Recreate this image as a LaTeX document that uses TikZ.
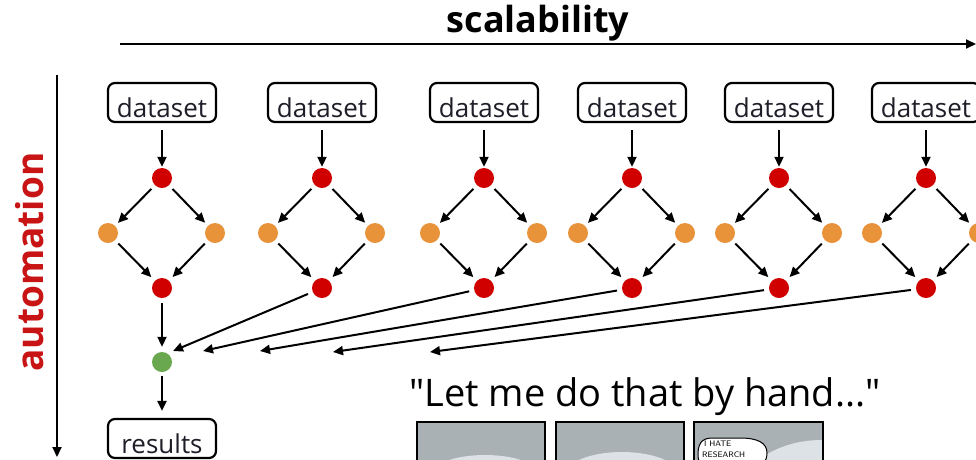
\documentclass[tikz,border=0pt]{standalone}
\usepackage{fontspec}
\setmainfont{Open Sans}
\newfontfamily\qfont{Open Sans}
\usetikzlibrary{arrows.meta}
\definecolor{nodered}{HTML}{D00000}
\definecolor{nodeorange}{HTML}{E8923A}
\definecolor{nodegreen}{HTML}{6AA84F}
\definecolor{axisred}{HTML}{C81414}
\definecolor{txt}{HTML}{1E1E28}
\definecolor{panelgray}{HTML}{AAB1B4}
\definecolor{panellight}{HTML}{DCE2E5}
\tikzset{
  ln/.style={line width=2pt, black},
  arr/.style={ln, -{Triangle[length=10pt,width=9pt]}},
  boxnode/.style={draw, line width=2.2pt, rounded corners=7pt, minimum width=108pt,
    inner xsep=0pt, inner ysep=3pt, text height=31pt, text depth=2pt,
    font=\fontsize{26}{26}\selectfont, text=txt},
  dot/.style={circle, inner sep=0pt, minimum size=20pt},
  rednode/.style={dot, fill=nodered},
  orangenode/.style={dot, fill=nodeorange},
  greennode/.style={dot, fill=nodegreen},
  panel/.style={draw, line width=1.5pt, fill=panelgray},
}
\begin{document}
\begin{tikzpicture}[x=1pt, y=-1pt]
\useasboundingbox (0,0) rectangle (976,459);
\clip (0,0) rectangle (976,459);
\fill[white] (0,0) rectangle (976,459);

% axes
\coordinate (hx0) at (120,44);
\coordinate (hx1) at (976,44);
\draw[arr] (hx0) -- (hx1);
\node[anchor=base, font=\fontsize{36}{36}\selectfont\bfseries] (scal) at (538,32) {scalability};
\coordinate (vy0) at (57,75);
\coordinate (vy1) at (57,457);
\draw[arr] (vy0) -- (vy1);
\node[anchor=base, rotate=90, font=\fontsize{37}{37}\selectfont\bfseries, text=axisred] (auto) at (43,262) {automation};

% one pipeline per dataset
\foreach \i/\x in {1/162,2/322,3/484,4/632,5/779,6/926}{
  \node[boxnode, anchor=base] (d\i) at (\x,117) {dataset};
  \node[rednode] (a\i) at (\x,178) {};
  \node[orangenode] (l\i) at (\x-54,233) {};
  \node[orangenode] (r\i) at (\x+53,233) {};
  \node[rednode] (b\i) at (\x,288) {};
  \draw[arr, shorten <=7pt, shorten >=1pt] (d\i) -- (a\i);
  \draw[arr, shorten <=5pt, shorten >=4pt] (a\i) -- (l\i);
  \draw[arr, shorten <=5pt, shorten >=4pt] (a\i) -- (r\i);
  \draw[arr, shorten <=4.5pt, shorten >=5pt] (l\i) -- (b\i);
  \draw[arr, shorten <=4.5pt, shorten >=5pt] (r\i) -- (b\i);
}

% merge and results
\node[greennode] (g) at (162,362) {};
\node[boxnode, anchor=base] (res) at (162,453) {results};
\draw[arr, shorten <=5pt, shorten >=5pt] (b1) -- (g);
\draw[arr, shorten <=3.5pt, shorten >=7pt] (g) -- (res);

\coordinate (t2) at (173,351);
\coordinate (t3) at (203,351);
\coordinate (t4) at (260,351);
\coordinate (t5) at (333,352);
\coordinate (t6) at (430,352);
\foreach \i in {2,...,6}{
  \draw[arr, shorten <=5pt] (b\i) -- (t\i);
}

% quote and comic strip
\node[anchor=base, font=\qfont\fontsize{38}{38}\selectfont, text=black] (quote) at (645,406) {"Let me do that by hand..."};

\draw[panel] (417,422) rectangle (545,470);
\fill[panellight] (485,478) ellipse [x radius=58pt, y radius=23pt];
\draw[panel] (556,422) rectangle (684,470);
\fill[panellight] (622,476) ellipse [x radius=58pt, y radius=24pt];
\draw[panel] (694,422) rectangle (823,470);
\fill[panellight] (745,470) .. controls (770,448) and (795,440) .. (822,440) -- (822,470) -- cycle;
\draw[line width=1pt, fill=white] (712,438) .. controls (700,438) and (698,446) .. (698,455)
  .. controls (698,466) and (705,472) .. (732,472)
  .. controls (760,472) and (767,464) .. (767,453)
  .. controls (767,443) and (758,438) .. (740,438) -- cycle;
\node[anchor=base west, font=\sffamily\fontsize{8}{8}\selectfont, inner sep=0pt] (h1) at (704,446) {I HATE};
\node[anchor=base west, font=\sffamily\fontsize{8}{8}\selectfont, inner sep=0pt] (h2) at (702,457) {RESEARCH};
\draw[line width=1.5pt] (417,422) rectangle (545,470) (556,422) rectangle (684,470) (694,422) rectangle (823,470);
\end{tikzpicture}
\end{document}
